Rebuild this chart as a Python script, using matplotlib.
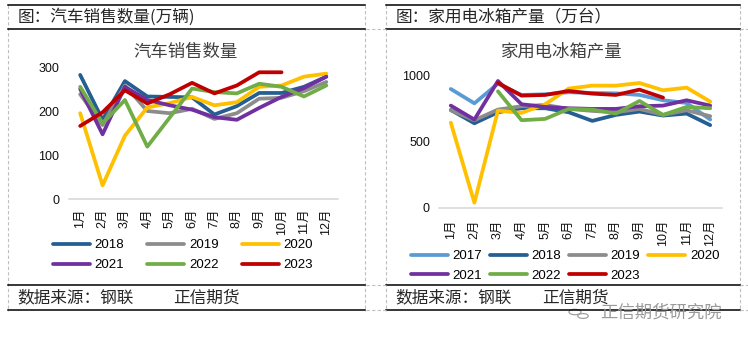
import numpy as np
import matplotlib
matplotlib.use("Agg")
import matplotlib.pyplot as plt
from matplotlib.lines import Line2D
from matplotlib.patches import Circle

plt.rcParams['font.family'] = ['Liberation Sans', 'Noto Sans CJK SC', 'DejaVu Sans']

W, H = 748, 343
nan = np.nan

months = ['1月', '2月', '3月', '4月', '5月', '6月', '7月', '8月', '9月', '10月', '11月', '12月']

# 汽车销售数量 (万辆)
car_years = ['2018', '2019', '2020', '2021', '2022', '2023']
car_2018 = [282, 180, 268, 233, 232, 231, 192, 211, 241, 241, 255, 278]
car_2019 = [238, 168, 258, 200, 195, 205, 182, 195, 228, 230, 245, 266]
car_2020 = [195, 31, 144, 208, 218, 232, 213, 220, 255, 258, 278, 285]
car_2021 = [250, 147, 255, 225, 213, 203, 186, 180, 207, 232, 252, 278]
car_2022 = [255, 172, 225, 119, 185, 251, 243, 240, 262, 255, 233, 258]
car_2023 = [166, 197, 247, 217, 238, 264, 240, 258, 288, 288, nan, nan]

# 家用电冰箱产量 (万台)
fridge_years = ['2017', '2018', '2019', '2020', '2021', '2022', '2023']
fr_2017 = [895, 787, 935, 850, 855, 870, 865, 862, 850, 810, 790, 665]
fr_2018 = [737, 637, 720, 750, 750, 720, 655, 700, 725, 695, 710, 623]
fr_2019 = [735, 660, 740, 765, 775, 745, 730, 720, 745, 700, 735, 690]
fr_2020 = [642, 40, 732, 715, 780, 898, 920, 920, 940, 885, 905, 800]
fr_2021 = [770, 665, 955, 780, 760, 750, 745, 745, 765, 770, 810, 770]
fr_2022 = [nan, nan, 877, 660, 670, 745, 740, 710, 805, 700, 760, 750]
fr_2023 = [nan, nan, 940, 845, 850, 880, 860, 850, 890, 830, nan, nan]

colors = {'2017': '#5B9BD5', '2018': '#255E91', '2019': '#8C8C8C', '2020': '#FFC000',
          '2021': '#7030A0', '2022': '#70AD47', '2023': '#C00000'}


def fx(x):
    return x / W


def fy(y):
    return 1 - y / H


def hline(fig, x0, x1, y, **kw):
    fig.add_artist(Line2D([fx(x0), fx(x1)], [fy(y), fy(y)], transform=fig.transFigure, **kw))


def vline(fig, x, y0, y1, **kw):
    fig.add_artist(Line2D([fx(x), fx(x)], [fy(y0), fy(y1)], transform=fig.transFigure, **kw))


def panel_frame(fig, x0, x1, header, source_x2):
    dash = dict(color='#BFBFBF', lw=0.8, ls=(0, (3, 2)))
    vline(fig, x0, 5, 311, **dash)
    vline(fig, x1, 5, 311, **dash)
    for y in (5, 29, 285, 310):
        hline(fig, x0, x1, y, color='black', lw=1.1)
    fig.text(fx(x0 + 10), fy(17), header, fontsize=12, color='#262626',
             va='center', ha='left', family=['Noto Sans CJK SC'])
    fig.text(fx(x0 + 9), fy(298), '数据来源：钢联', fontsize=12, color='#262626',
             va='center', ha='left', family=['Noto Sans CJK SC'])
    fig.text(fx(source_x2), fy(298), '正信期货', fontsize=12, color='#262626',
             va='center', ha='left', family=['Noto Sans CJK SC'])


def style_axes(ax, ymax, yticks, title, title_x, ypad, xpad):
    x = np.arange(len(months))
    ax.set_xlim(-0.5, len(months) - 0.5)
    ax.set_ylim(0, ymax)
    ax.set_xticks(x)
    ax.set_xticklabels(months, rotation=90, fontsize=9, color='#111111')
    ax.set_yticks(yticks)
    ax.set_yticklabels([str(t) for t in yticks], fontsize=9, color='#111111')
    ax.tick_params(axis='both', length=0)
    ax.tick_params(axis='y', pad=ypad)
    ax.tick_params(axis='x', pad=xpad)
    for s in ('top', 'right', 'left'):
        ax.spines[s].set_visible(False)
    ax.spines['bottom'].set_color('#D9D9D9')
    ax.spines['bottom'].set_linewidth(1.2)
    ax.patch.set_alpha(0)
    ax.figure.text(fx(title_x), fy(52), title, fontsize=12.5, color='#404040',
                   ha='center', va='center', family=['Noto Sans CJK SC'])


fig = plt.figure(figsize=(W / 100, H / 100), dpi=100)

panel_frame(fig, 8, 365, '图：汽车销售数量(万辆)', 173)
panel_frame(fig, 386, 740, '图：家用电冰箱产量（万台）', 542)

# dashed grid segments between and beside the panels
for y in (29, 285, 310):
    hline(fig, 366, 386, y, color='#BFBFBF', lw=0.8, ls=(0, (3, 2)))
    hline(fig, 740, 748, y, color='#BFBFBF', lw=0.8, ls=(0, (3, 2)))

line_kw = dict(lw=2.7, solid_capstyle='round', solid_joinstyle='round')
x = np.arange(len(months))

# left chart
ax1 = fig.add_axes([fx(69), fy(199), fx(337.5) - fx(69), fy(67) - fy(199)])
car_series = [car_2018, car_2019, car_2020, car_2021, car_2022, car_2023]
h1 = {}
for yr, vals in zip(car_years, car_series):
    h1[yr], = ax1.plot(x, vals, color=colors[yr], label=yr, **line_kw)
style_axes(ax1, 300, [0, 100, 200, 300], '汽车销售数量', 186, 7, 7)

order1 = ['2018', '2021', '2019', '2022', '2020', '2023']
fig.legend([h1[k] for k in order1], order1, ncol=3, loc='upper left',
           bbox_to_anchor=(fx(53), fy(239)), frameon=False, fontsize=9.5,
           handlelength=2.8, handletextpad=0.35, columnspacing=1.75,
           labelspacing=0.6, borderpad=0, borderaxespad=0)

# right chart
ax2 = fig.add_axes([fx(439), fy(208), fx(722) - fx(439), fy(75) - fy(208)])
fr_series = [fr_2017, fr_2018, fr_2019, fr_2020, fr_2021, fr_2022, fr_2023]
h2 = {}
for yr, vals in zip(fridge_years, fr_series):
    h2[yr], = ax2.plot(x, vals, color=colors[yr], label=yr, **line_kw)
style_axes(ax2, 1000, [0, 500, 1000], '家用电冰箱产量', 562, 6.5, 8.5)

order2 = ['2017', '2021', '2018', '2022', '2019', '2023', '2020']
fig.legend([h2[k] for k in order2], order2, ncol=4, loc='upper left',
           bbox_to_anchor=(fx(411), fy(250)), frameon=False, fontsize=9.5,
           handlelength=2.8, handletextpad=0.35, columnspacing=0.6,
           labelspacing=0.55, borderpad=0, borderaxespad=0)

# watermark
fig.add_artist(Circle((fx(575), fy(312)), 0.008, transform=fig.transFigure,
                      fill=False, ec='#A0A0A0', lw=0.9))
fig.add_artist(Circle((fx(583), fy(316)), 0.007, transform=fig.transFigure,
                      fill=False, ec='#A0A0A0', lw=0.9))
fig.text(fx(600), fy(313), '正信期货研究院', fontsize=12.5, color='#9A9A9A',
         ha='left', va='center', family=['Noto Sans CJK SC'])

fig.savefig('out.png', dpi=100)
